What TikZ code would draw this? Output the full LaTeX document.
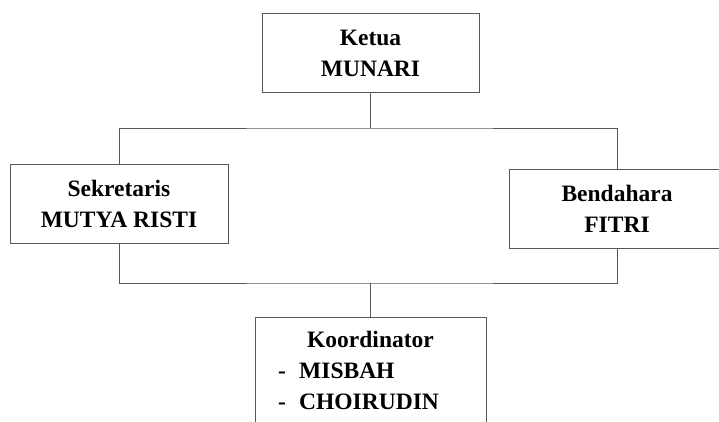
\documentclass[tikz,border=0pt]{standalone}
\usepackage{fontspec}
\setmainfont{Liberation Serif}
\usepackage{tikz}

\begin{document}
\begin{tikzpicture}[x=1pt, y=-1pt,
    jabatan/.style={rectangle, draw=black!65, line width=1pt, fill=white,
        minimum width=217pt, minimum height=79pt, inner sep=0pt,
        align=center, font=\fontsize{23.5}{31}\selectfont\bfseries},
    garis/.style={draw=black!65, line width=1pt},
    teks/.style={inner sep=0pt, font=\fontsize{23.5}{31.5}\selectfont\bfseries}]
    \useasboundingbox (0,0) rectangle (719,421);
    \clip (0,0) rectangle (719,421);
            % Nodes
            \node[jabatan] (ketua) at (370.5,53) {Ketua\\MUNARI};
            \node[jabatan, minimum width=218pt] (sekretaris) at (119,203.5) {Sekretaris\\MUTYA RISTI};
            \node[jabatan, minimum width=216pt] (bendahara) at (617,208.5) {Bendahara\\FITRI};
            \node[jabatan, anchor=north, minimum width=231pt, minimum height=130pt] (koord) at (370.5,317) {};
            \node[teks, anchor=base] (koordjudul) at (370.5,347) {Koordinator};
            \node[teks, anchor=base west] (anggota1) at (278,378) {\makebox[21pt][l]{-}MISBAH};
            \node[teks, anchor=base west] (anggota2) at (278,409.5) {\makebox[21pt][l]{-}CHOIRUDIN};
            \coordinate (cabangatas) at (370.5,128);
            \coordinate (cabangbawah) at (370.5,283);

            % Edges
            \draw[garis] (ketua.south) -- (cabangatas);
            \draw[garis] (sekretaris.north) |- (cabangatas) -| (bendahara.north);
            \draw[garis] (sekretaris.south) |- (cabangbawah) -| (bendahara.south);
            \draw[garis] (cabangbawah) -- (koord.north);
        \end{tikzpicture}
\end{document}
